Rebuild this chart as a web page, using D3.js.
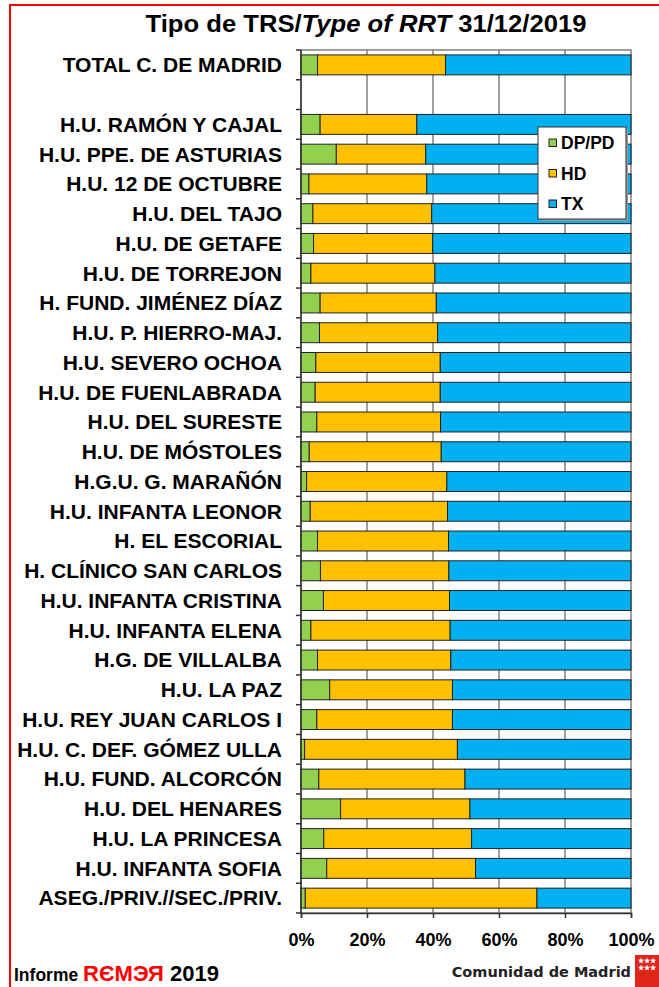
<!DOCTYPE html>
<html>
<head>
<meta charset="utf-8">
<script src="https://cdn.jsdelivr.net/npm/d3@7"></script>
<style>
  body { margin: 0; background: #fff; }
  svg text { font-family: "Liberation Sans", Arial, sans-serif; font-weight: bold; }
</style>
</head>
<body>
<div id="chart"></div>
<script>
// Categories top to bottom (the empty one is the gap after the total)
const categories = [
  "TOTAL C. DE MADRID", " ",
  "H.U. RAMÓN Y CAJAL", "H.U. PPE. DE ASTURIAS", "H.U. 12 DE OCTUBRE", "H.U. DEL TAJO",
  "H.U. DE GETAFE", "H.U. DE TORREJON", "H. FUND. JIMÉNEZ DÍAZ", "H.U. P. HIERRO-MAJ.",
  "H.U. SEVERO OCHOA", "H.U. DE FUENLABRADA", "H.U. DEL SURESTE", "H.U. DE MÓSTOLES",
  "H.G.U. G. MARAÑÓN", "H.U. INFANTA LEONOR", "H. EL ESCORIAL", "H. CLÍNICO SAN CARLOS",
  "H.U. INFANTA CRISTINA", "H.U. INFANTA ELENA", "H.G. DE VILLALBA", "H.U. LA PAZ",
  "H.U. REY JUAN CARLOS I", "H.U. C. DEF. GÓMEZ ULLA", "H.U. FUND. ALCORCÓN", "H.U. DEL HENARES",
  "H.U. LA PRINCESA", "H.U. INFANTA SOFIA", "ASEG./PRIV.//SEC./PRIV."
];

// % DP/PD (peritoneal dialysis)
const dpValues = [5.0, null,
  5.8, 10.7, 2.4, 3.6, 3.8, 3.0, 5.8, 5.6,
  4.5, 4.3, 4.8, 2.5, 1.7, 2.8, 5.0, 5.9,
  6.8, 3.0, 5.0, 8.7, 4.8, 1.1, 5.4, 12.0,
  6.9, 7.8, 1.3];

// % HD (haemodialysis)
const hdValues = [38.8, null,
  29.3, 27.1, 35.7, 36.0, 36.1, 37.6, 35.2, 35.8,
  37.7, 37.9, 37.5, 40.0, 42.5, 41.6, 39.7, 38.9,
  38.2, 42.2, 40.4, 37.2, 41.1, 46.3, 44.3, 39.2,
  44.8, 45.1, 70.2];

// % TX (transplant) = the rest of each bar
const txValues = dpValues.map((d, i) => d == null ? null : +(100 - d - hdValues[i]).toFixed(1));

const seriesNames = ["DP/PD", "HD", "TX"];
const seriesColors = ["#92D050", "#FFC000", "#00B0F0"];
const xTicks = [0, 20, 40, 60, 80, 100];

let width = 659;
let height = 987;
const margin = { top: 50, left: 301, right: 28, bottom: 74 };

const svg = d3.select("#chart")
  .append("svg")
  .attr("width", width)
  .attr("height", height);

// red frame round the page
svg.append("rect")
  .attr("x", 10).attr("y", 5)
  .attr("width", 700).attr("height", 1100)
  .attr("fill", "none")
  .attr("stroke", "#ff0000")
  .attr("stroke-width", 2);

// title with the english part in italics
const title = svg.append("text")
  .attr("x", 366).attr("y", 32)
  .attr("text-anchor", "middle")
  .attr("textLength", 441)
  .attr("lengthAdjust", "spacingAndGlyphs")
  .style("font-size", "24px");
title.append("tspan").text("Tipo de TRS/");
title.append("tspan").style("font-style", "italic").text("Type of RRT");
title.append("tspan").text(" 31/12/2019");

const x = d3.scaleLinear().domain([0, 100]).range([margin.left, width - margin.right]);
const y = d3.scaleBand().domain(categories).range([margin.top, height - margin.bottom]).paddingInner(0.33).paddingOuter(0.165);

const plotTop = margin.top;
const plotBottom = height - margin.bottom;

// vertical grid lines
svg.append("g")
  .selectAll("line")
  .data(xTicks.slice(1, -1))
  .enter()
  .append("line")
  .attr("x1", d => x(d)).attr("x2", d => x(d))
  .attr("y1", plotTop).attr("y2", plotBottom)
  .attr("stroke", "#808080")
  .attr("stroke-width", 1.5);

// plot frame
svg.append("rect")
  .attr("x", x(0)).attr("y", plotTop)
  .attr("width", x(100) - x(0)).attr("height", plotBottom - plotTop)
  .attr("fill", "none")
  .attr("stroke", "#808080")
  .attr("stroke-width", 1.5);

// stack the three series
const rows = categories.map((c, i) => ({ cat: c, dp: dpValues[i], hd: hdValues[i], tx: txValues[i] }))
  .filter(d => d.dp != null);
const stack = d3.stack().keys(["dp", "hd", "tx"])(rows);

svg.append("g")
  .selectAll("g")
  .data(stack)
  .enter()
  .append("g")
  .attr("fill", (d, i) => seriesColors[i])
  .selectAll("rect")
  .data(d => d)
  .enter()
  .append("rect")
  .attr("x", d => x(d[0]))
  .attr("width", d => x(d[1]) - x(d[0]))
  .attr("y", d => y(d.data.cat))
  .attr("height", y.bandwidth())
  .attr("stroke", "#222")
  .attr("stroke-width", 1);

// left axis line + ticks between the categories
svg.append("line")
  .attr("x1", x(0)).attr("x2", x(0))
  .attr("y1", plotTop).attr("y2", plotBottom)
  .attr("stroke", "#333").attr("stroke-width", 1.5);

const step = y.step();
svg.append("g")
  .selectAll("line")
  .data(d3.range(categories.length + 1))
  .enter()
  .append("line")
  .attr("x1", x(0) - 5).attr("x2", x(0))
  .attr("y1", d => plotTop + d * step)
  .attr("y2", d => plotTop + d * step)
  .attr("stroke", "#333").attr("stroke-width", 1.5);

// category labels
svg.append("g")
  .selectAll("text")
  .data(categories)
  .enter()
  .append("text")
  .attr("x", 282)
  .attr("y", d => y(d) + y.bandwidth() / 2)
  .attr("dy", "0.35em")
  .attr("text-anchor", "end")
  .style("font-size", "21px")
  .text(d => d.trim());

// bottom axis
const xAxis = d3.axisBottom(x)
  .tickValues(xTicks)
  .tickSize(5)
  .tickPadding(15)
  .tickFormat(d => d + "%");

const gx = svg.append("g")
  .attr("transform", "translate(0," + plotBottom + ")")
  .call(xAxis);
gx.select(".domain").attr("stroke", "#333").attr("stroke-width", 1.5);
gx.selectAll(".tick line").attr("stroke", "#333").attr("stroke-width", 1.5);
gx.selectAll(".tick text")
  .attr("fill", "#000")
  .style("font-size", "18px")
  .style("font-family", "'Liberation Sans', Arial, sans-serif")
  .style("font-weight", "bold");

// legend
const legend = svg.append("g").attr("transform", "translate(538,127)");
legend.append("rect")
  .attr("x", 2).attr("y", 2)
  .attr("width", 88).attr("height", 92)
  .attr("fill", "#999");
legend.append("rect")
  .attr("width", 88).attr("height", 92)
  .attr("fill", "#fff")
  .attr("stroke", "#333")
  .attr("stroke-width", 1);

seriesNames.forEach(function(name, i) {
  const ly = 16 + i * 30.5;
  legend.append("rect")
    .attr("x", 11).attr("y", ly - 4)
    .attr("width", 7.5).attr("height", 7.5)
    .attr("fill", seriesColors[i])
    .attr("stroke", "#222");
  legend.append("text")
    .attr("x", 23).attr("y", ly)
    .attr("dy", "0.35em")
    .style("font-size", "17.5px")
    .text(name);
});

// footer
const foot = svg.append("text")
  .attr("x", 14).attr("y", 981);
foot.append("tspan").style("font-size", "17.5px").text("Informe ");
foot.append("tspan").style("font-size", "22px").attr("fill", "#ff0000").text("RЄMЭЯ");
foot.append("tspan").style("font-size", "22px").text(" 2019");

svg.append("text")
  .attr("x", 631).attr("y", 977)
  .attr("text-anchor", "end")
  .style("font-family", "'DejaVu Sans', sans-serif")
  .style("font-size", "14.5px")
  .attr("fill", "#222")
  .text("Comunidad de Madrid");

// flag
svg.append("rect")
  .attr("x", 635).attr("y", 955)
  .attr("width", 30).attr("height", 40)
  .attr("fill", "#e0251b");
[[641, 963], [647, 963], [653, 963], [641, 970], [647, 970], [653, 970]].forEach(function(p) {
  svg.append("text")
    .attr("x", p[0]).attr("y", p[1])
    .attr("fill", "#fff")
    .attr("text-anchor", "middle")
    .style("font-size", "7px")
    .text("★");
});
</script>
</body>
</html>
